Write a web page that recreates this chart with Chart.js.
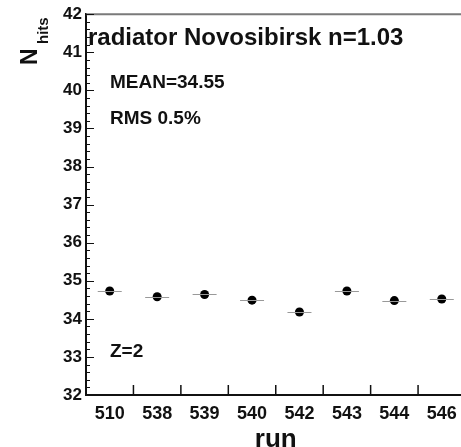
<!DOCTYPE html>
<html>
<head>
<meta charset="utf-8">
<script src="https://cdn.jsdelivr.net/npm/chart.js@4/dist/chart.umd.min.js"></script>
<style>
    html, body { margin: 0; padding: 0; background: #fff; overflow: hidden; }
    canvas { display: block; }
</style>
</head>
<body>
<canvas id="hitsChart" width="470" height="447"></canvas>
<script>
// Runs on the x axis and mean number of hits per run
const runs = ['510', '538', '539', '540', '542', '543', '544', '546'];
const nHits = [34.73, 34.58, 34.64, 34.49, 34.18, 34.73, 34.48, 34.52];

const Y_MIN = 32;
const Y_MAX = 42;
const MINOR_STEP = 0.2;

const FONT = '"Liberation Sans", Arial, Helvetica, sans-serif';
const INK = '#111';

// Inward tick marks, top frame line and horizontal error bars
const framePlugin = {
    id: 'frame',
    afterDatasetsDraw(chart) {
        const { ctx, chartArea, scales } = chart;
        const x = scales.x;
        const y = scales.y;
        ctx.save();

        // top frame line
        ctx.strokeStyle = '#7a7a7a';
        ctx.lineWidth = 2;
        ctx.beginPath();
        ctx.moveTo(chartArea.left, chartArea.top);
        ctx.lineTo(chartArea.right + 5, chartArea.top);
        ctx.stroke();

        // y ticks, major every unit and minor every 0.2
        ctx.strokeStyle = INK;
        ctx.lineWidth = 1;
        const steps = Math.round((Y_MAX - Y_MIN) / MINOR_STEP);
        for (let i = 0; i <= steps; i++) {
            const v = Y_MIN + i * MINOR_STEP;
            const py = Math.round(y.getPixelForValue(v)) + 0.5;
            const len = (i % 5 === 0) ? 8 : 4;
            ctx.beginPath();
            ctx.moveTo(chartArea.left, py);
            ctx.lineTo(chartArea.left + len, py);
            ctx.stroke();
        }

        // x ticks between runs
        ctx.lineWidth = 1.5;
        for (let i = 0; i < runs.length; i++) {
            const px = (x.getPixelForValue(i) + x.getPixelForValue(i + 1)) / 2;
            ctx.beginPath();
            ctx.moveTo(px, chartArea.bottom);
            ctx.lineTo(px, chartArea.bottom - 10);
            ctx.stroke();
        }

        // horizontal bars through each point
        ctx.strokeStyle = '#999';
        ctx.lineWidth = 1;
        nHits.forEach((v, i) => {
            const px = x.getPixelForValue(i);
            const py = Math.round(y.getPixelForValue(v)) + 0.5;
            ctx.beginPath();
            ctx.moveTo(px - 12, py);
            ctx.lineTo(px + 12, py);
            ctx.stroke();
        });

        ctx.restore();
    }
};

// Labels inside the frame and the y axis title with subscript
const textPlugin = {
    id: 'texts',
    afterDraw(chart) {
        const { ctx, chartArea } = chart;
        ctx.save();
        ctx.fillStyle = INK;
        ctx.textBaseline = 'alphabetic';
        ctx.textAlign = 'left';

        ctx.font = `bold 24px ${FONT}`;
        ctx.fillText('radiator Novosibirsk n=1.03', chartArea.left + 2, 45);

        ctx.font = `bold 19px ${FONT}`;
        ctx.fillText('MEAN=34.55', chartArea.left + 24, 88);
        ctx.fillText('RMS 0.5%', chartArea.left + 24, 124);
        ctx.fillText('Z=2', chartArea.left + 24, 357);

        // N_hits, rotated
        ctx.translate(37, 65);
        ctx.rotate(-Math.PI / 2);
        ctx.font = `bold 23px ${FONT}`;
        ctx.fillText('N', 0, 0);
        ctx.font = `bold 15px ${FONT}`;
        ctx.fillText('hits', 21, 11);

        ctx.restore();
    }
};

new Chart(document.getElementById('hitsChart'), {
    type: 'line',
    data: {
        labels: runs,
        datasets: [{
            data: nHits,
            showLine: false,
            pointRadius: 4.5,
            pointHoverRadius: 4.5,
            pointBackgroundColor: '#000',
            pointBorderColor: '#000',
            pointBorderWidth: 0
        }]
    },
    options: {
        responsive: false,
        animation: false,
        layout: {
            padding: { top: 11, right: 3, left: 0, bottom: 0 }
        },
        plugins: {
            legend: { display: false },
            tooltip: { enabled: false }
        },
        scales: {
            x: {
                type: 'category',
                offset: true,
                grid: { display: false, drawTicks: false },
                border: { display: true, color: INK, width: 2 },
                ticks: {
                    color: INK,
                    padding: 8,
                    maxRotation: 0,
                    autoSkip: false,
                    font: { family: FONT, size: 18, weight: 'bold' }
                },
                title: {
                    display: true,
                    text: 'run',
                    color: INK,
                    padding: { top: 0, bottom: -6 },
                    font: { family: FONT, size: 26, weight: 'bold', lineHeight: 1 }
                },
                afterFit(scale) {
                    scale.height = 52;
                }
            },
            y: {
                min: Y_MIN,
                max: Y_MAX,
                grid: { display: false, drawTicks: false },
                border: { display: true, color: INK, width: 2 },
                ticks: {
                    stepSize: 1,
                    color: INK,
                    padding: 4,
                    font: { family: FONT, size: 17, weight: 'bold' }
                },
                afterFit(scale) {
                    scale.width = 86;
                }
            }
        }
    },
    plugins: [framePlugin, textPlugin]
});
</script>
</body>
</html>
